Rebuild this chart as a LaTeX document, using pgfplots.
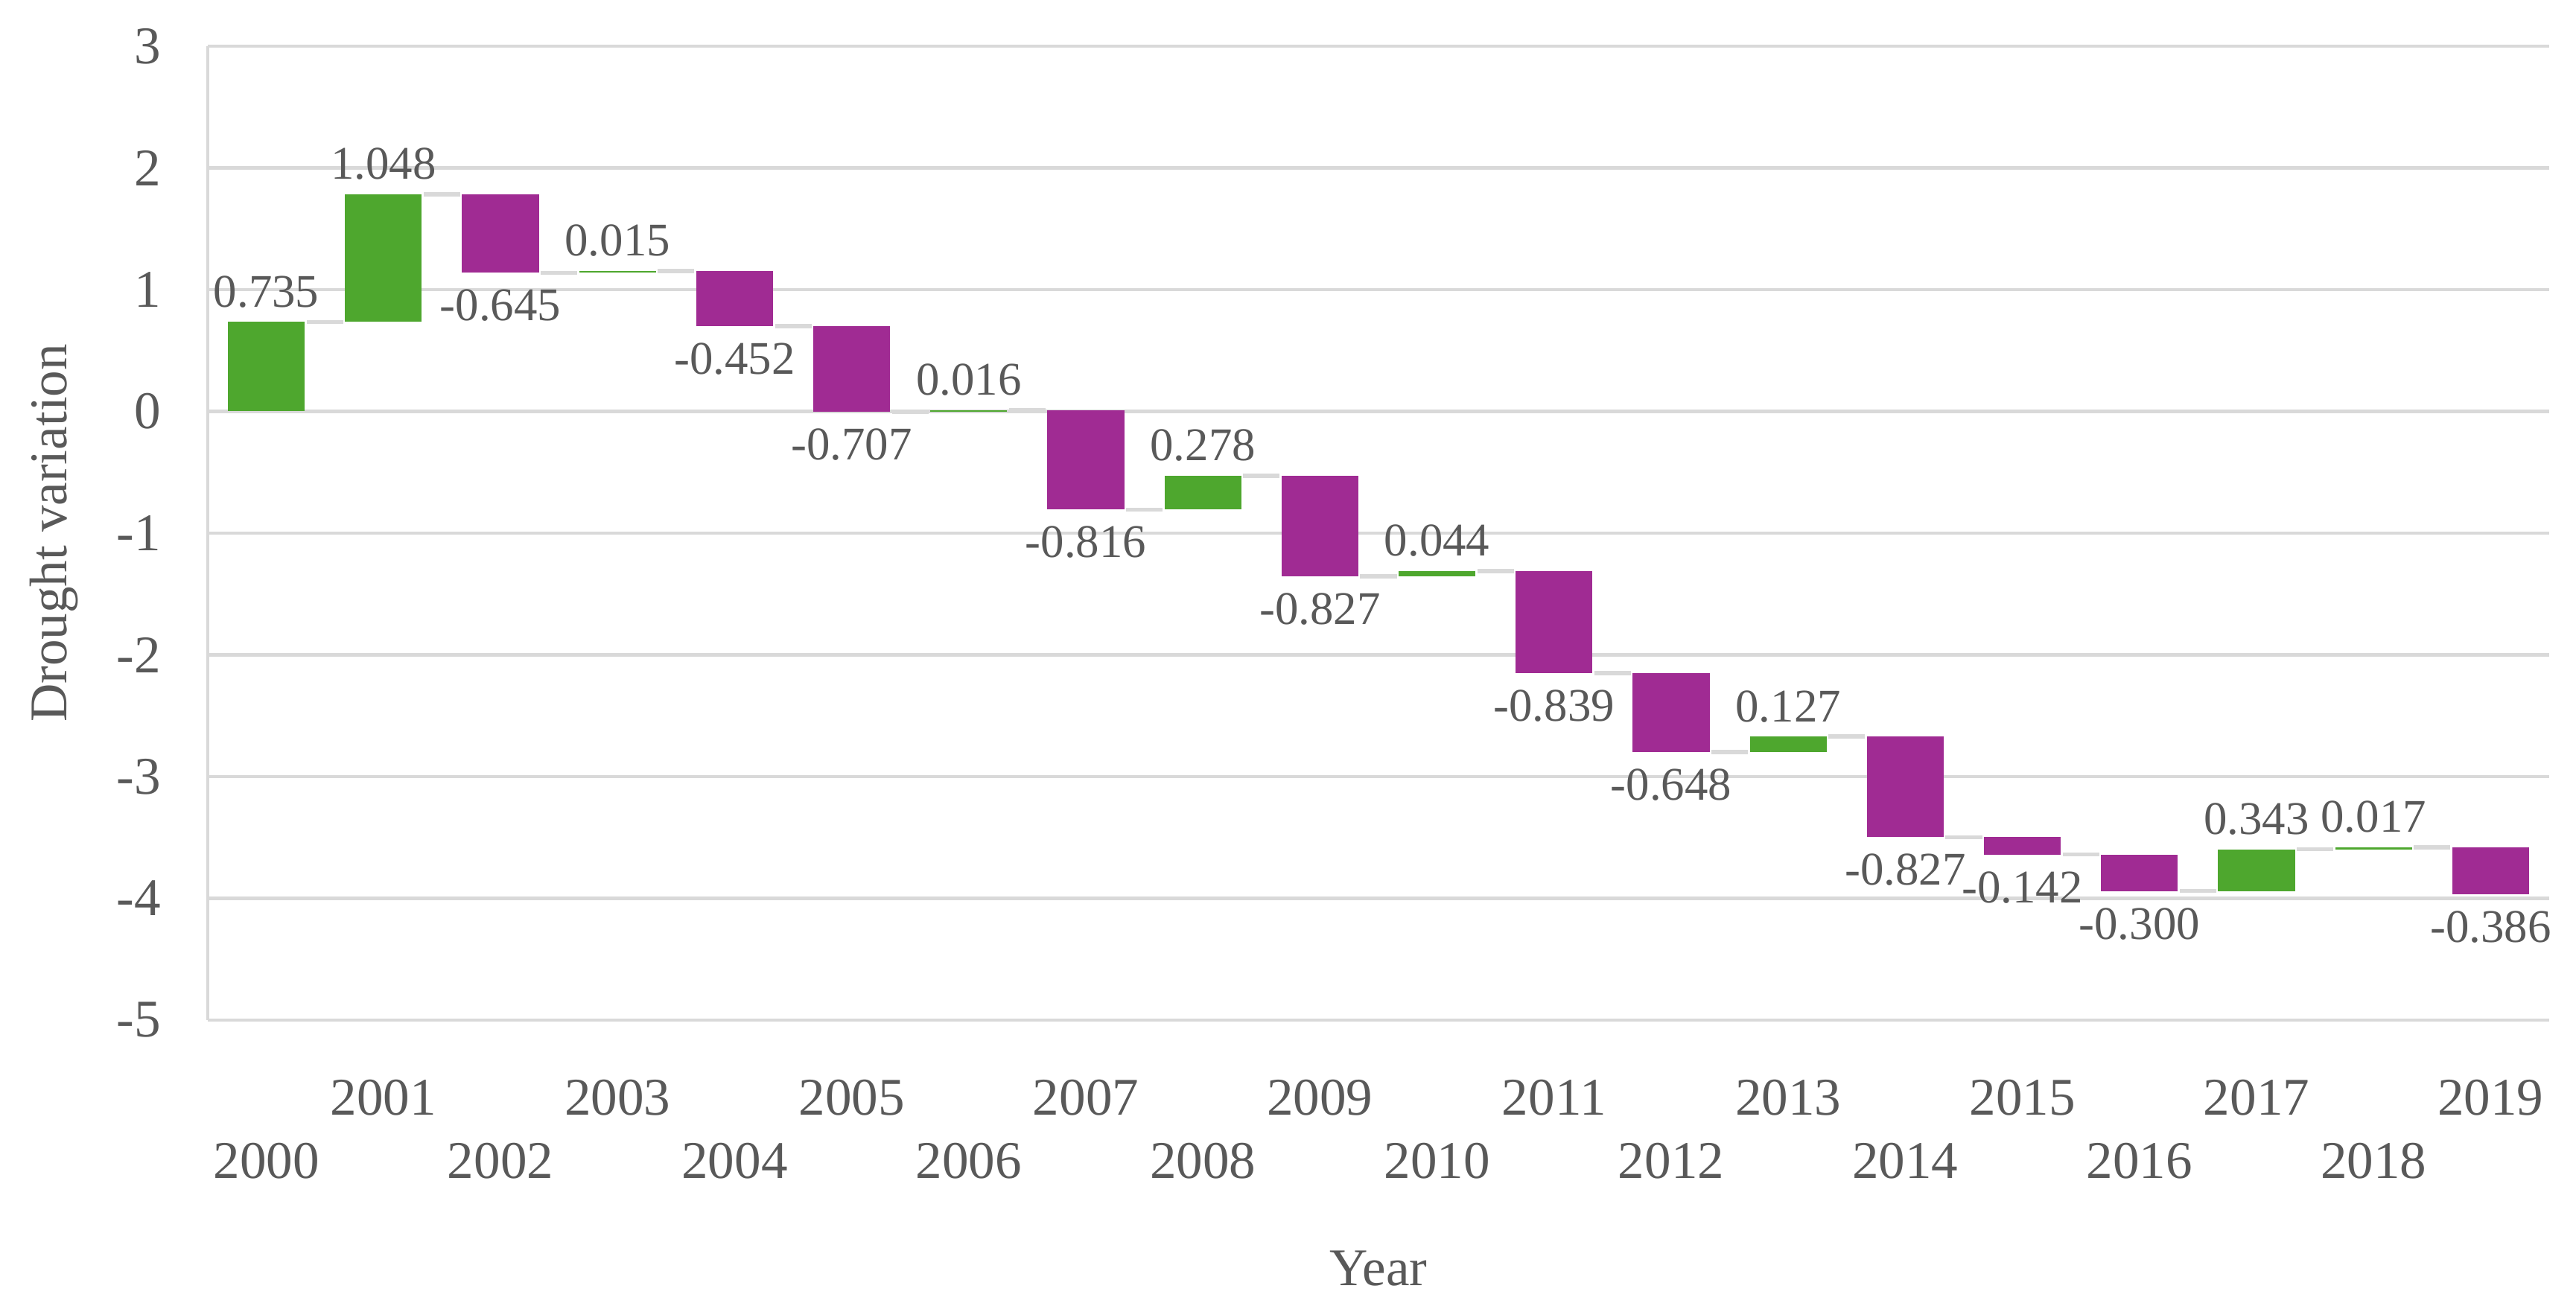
\documentclass[border=0pt]{standalone}
\usepackage{fontspec}
\setmainfont{Liberation Serif}
\usepackage{pgfplots}
\usepackage{pgfplotstable}
\pgfplotsset{compat=1.18}
\definecolor{wfgreen}{HTML}{4EA72E}
\definecolor{wfpurple}{HTML}{A02B93}
\definecolor{gridgray}{HTML}{D9D9D9}
\definecolor{txtgray}{HTML}{595959}
\newcommand\tickfont{\fontsize{12.9}{15}\selectfont}
\newcommand\labfont{\fontsize{11.4}{13}\selectfont}
\newcommand\lo[1]{\raisebox{-15.4pt}{#1}}

% all years: index, start level, end level
\pgfplotstableread{
x start end
0 0 0.735
1 0.735 1.783
2 1.783 1.138
3 1.138 1.153
4 1.153 0.701
5 0.701 -0.006
6 -0.006 0.010
7 0.010 -0.806
8 -0.806 -0.528
9 -0.528 -1.355
10 -1.355 -1.311
11 -1.311 -2.150
12 -2.150 -2.798
13 -2.798 -2.671
14 -2.671 -3.498
15 -3.498 -3.640
16 -3.640 -3.940
17 -3.940 -3.597
18 -3.597 -3.580
19 -3.580 -3.966
}\alldata

\pgfplotstableread{
x start end lab
0 0 0.735 0.735
1 0.735 1.783 1.048
3 1.138 1.153 0.015
6 -0.006 0.010 0.016
8 -0.806 -0.528 0.278
10 -1.355 -1.311 0.044
13 -2.798 -2.671 0.127
17 -3.940 -3.597 0.343
18 -3.597 -3.580 0.017
}\posdata

\pgfplotstableread{
x start end lab
2 1.783 1.138 -0.645
4 1.153 0.701 -0.452
5 0.701 -0.006 -0.707
7 0.010 -0.806 -0.816
9 -0.528 -1.355 -0.827
11 -1.311 -2.150 -0.839
12 -2.150 -2.798 -0.648
14 -2.671 -3.498 -0.827
15 -3.498 -3.640 -0.142
16 -3.640 -3.940 -0.300
19 -3.580 -3.966 -0.386
}\negdata

\begin{document}
\begin{tikzpicture}
\begin{axis}[
  name=ax,
  at={(0,0)}, anchor=south west,
  scale only axis,
  width=570.1pt, height=237.2pt,
  xmin=-0.5, xmax=19.5, ymin=-5, ymax=3,
  axis x line*=bottom, axis y line*=left,
  axis line style={draw=gridgray, line width=0.75pt},
  ymajorgrids,
  grid style={draw=gridgray, line width=0.75pt},
  major tick length=0pt,
  ytick={-5,-4,...,3},
  yticklabels={-5,-4,-3,-2,-1,0,1,2,3},
  yticklabel style={anchor=east, inner sep=0pt, xshift=-11.24pt, font=\tickfont, text=txtgray},
  xtick={0,1,...,19},
  xticklabels={\lo{2000},2001,\lo{2002},2003,\lo{2004},2005,\lo{2006},2007,\lo{2008},2009,\lo{2010},2011,\lo{2012},2013,\lo{2014},2015,\lo{2016},2017,\lo{2018},2019},
  xticklabel style={anchor=base, inner sep=0pt, yshift=-23.2pt, font=\tickfont, text=txtgray},
  xlabel={Year},
  ylabel={Drought variation},
  xlabel style={at={(axis description cs:0.5,-0.2728)}, anchor=base, inner sep=0pt, font=\tickfont, text=txtgray},
  ylabel style={at={(axis description cs:-0.06017,0.5)}, anchor=base, inner sep=0pt, font=\tickfont, text=txtgray},
]
% connectors
\addplot[draw=none, mark=none, skip coords between index={19}{20},
  error bars/.cd, x dir=both, x fixed=0.156, error mark=none,
  error bar style={draw=gridgray, line width=1pt}]
  table[x expr=\thisrow{x}+0.5, y=end] {\alldata};
% increases
\addplot[draw=none, mark=none,
  error bars/.cd, y dir=both, y explicit, error mark=none,
  error bar style={draw=wfgreen, line width=18.7pt}]
  table[x=x, y expr=(\thisrow{start}+\thisrow{end})/2, y error expr=abs(\thisrow{end}-\thisrow{start})/2] {\posdata};
% decreases
\addplot[draw=none, mark=none,
  error bars/.cd, y dir=both, y explicit, error mark=none,
  error bar style={draw=wfpurple, line width=18.7pt}]
  table[x=x, y expr=(\thisrow{start}+\thisrow{end})/2, y error expr=abs(\thisrow{end}-\thisrow{start})/2] {\negdata};
% labels
\addplot[draw=none, mark=none, nodes near coords, point meta=explicit symbolic,
  nodes near coords style={anchor=south, inner sep=0pt, yshift=3.26pt, font=\labfont, text=txtgray}]
  table[x=x, y=end, meta=lab] {\posdata};
\addplot[draw=none, mark=none, nodes near coords, point meta=explicit symbolic,
  nodes near coords style={anchor=north, inner sep=0pt, yshift=-3.9pt, font=\labfont, text=txtgray}]
  table[x=x, y=end, meta=lab] {\negdata};
\end{axis}
\pgfresetboundingbox
\path[use as bounding box] ([xshift=-50.6pt,yshift=-70.2pt]ax.south west) rectangle ([xshift=6.53pt,yshift=11.24pt]ax.north east);
\end{tikzpicture}
\end{document}
